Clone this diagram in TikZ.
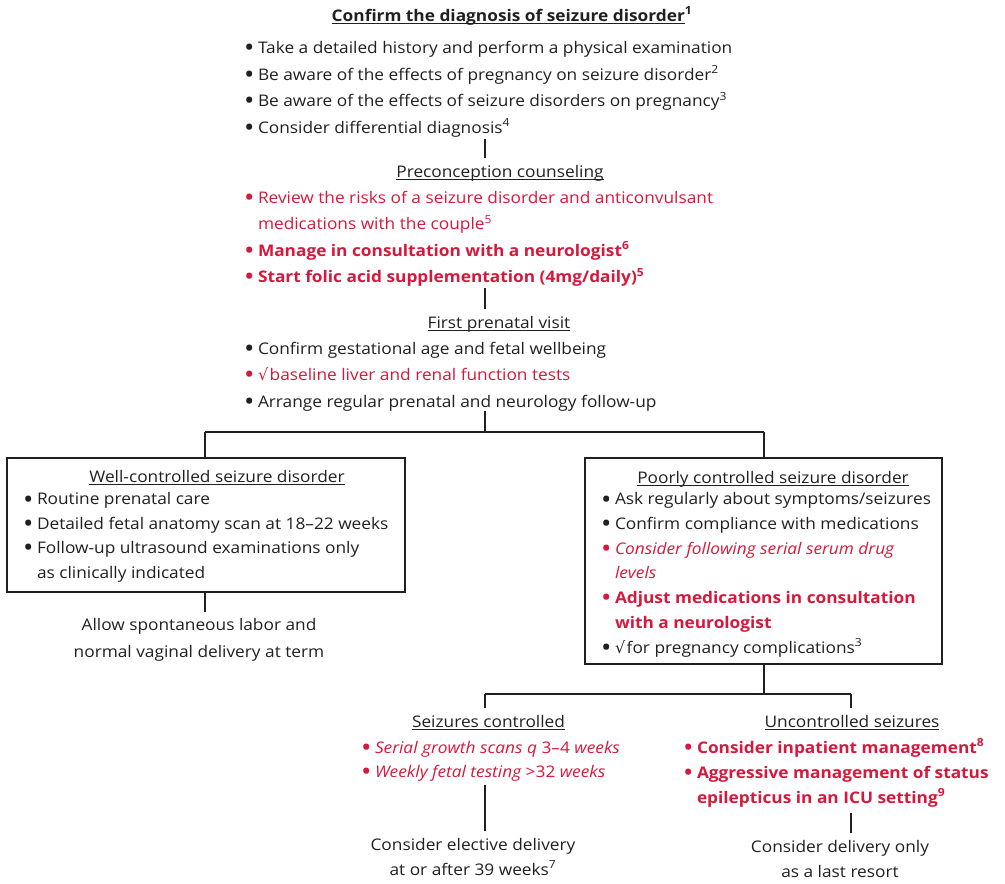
\documentclass[tikz,border=0pt]{standalone}
\usepackage{fontspec}
\usepackage{graphicx}
\setmainfont[FakeStretch=1.08]{Open Sans}
\newfontfamily\symf{DejaVu Sans}
\definecolor{ink}{RGB}{35,31,32}
\definecolor{alert}{RGB}{214,24,60}
% bullet with a fixed hanging width, and the matching indent for wrapped lines
\newcommand{\bl}{\makebox[12.5pt][l]{\hspace*{-1.5pt}\raisebox{-3.2pt}{\scalebox{1.6}{\normalfont •}}}}
\newcommand{\ind}{\hspace*{12.5pt}}
\newcommand{\chk}{{\symf √}\hspace{1.5pt}}
% heading underline at a fixed depth below the baseline
\newcommand{\hd}[1]{\setbox0\hbox{#1}\rlap{\rule[-3pt]{\wd0}{0.9pt}}\box0}
\newcommand{\bodyfont}{\fontsize{16}{26.5}\selectfont}

\begin{document}
\begin{tikzpicture}[x=1pt,y=-1pt,
  every node/.style={inner sep=0pt, outer sep=0pt, text=ink, font=\bodyfont},
  % multi-line lists are placed by the baseline of their last line
  list/.style={anchor=base west, align=left},
  skip/.style={font=\fontsize{16}{#1}\selectfont},
  head/.style={anchor=base},
  centred/.style={anchor=base, align=center},
  box/.style={draw=ink, line width=1.3pt, rectangle},
  wire/.style={draw=ink, line width=1.3pt},
  lead/.style={wire, shorten <=2pt, shorten >=7pt}]

\useasboundingbox (0,0) rectangle (1005,884);
\coordinate (ax) at (485,0);

% --- diagnosis ---
\node[head] (confirm) at (512,21)
  {\bfseries\hd{Confirm the diagnosis of seizure disorder}\textsuperscript{1}};
\node[list] (hist) at (245.5,133)
  {\bl Take a detailed history and perform a physical examination\\
   \bl Be aware of the effects of pregnancy on seizure disorder\textsuperscript{2}\\
   \bl Be aware of the effects of seizure disorders on pregnancy\textsuperscript{3}\\
   \bl Consider differential diagnosis\textsuperscript{4}};

% --- preconception ---
\node[head] (pre) at (500,177) {\hd{Preconception counseling}};
\node[list, text=alert] (prel) at (245.5,282.5)
  {\bl Review the risks of a seizure disorder and anticonvulsant\\
   \ind medications with the couple\textsuperscript{5}\\
   {\bfseries\bl Manage in consultation with a neurologist\textsuperscript{6}}\\
   {\bfseries\bl Start folic acid supplementation (4mg/daily)\textsuperscript{5}}};

% --- first visit ---
\node[head] (first) at (499,328) {\hd{First prenatal visit}};
\node[list] (firstl) at (245.5,407)
  {\bl Confirm gestational age and fetal wellbeing\\
   {\color{alert}\bl\chk baseline liver and renal function tests}\\
   \bl Arrange regular prenatal and neurology follow-up};

% --- well-controlled branch ---
\node[box, minimum width=398pt, minimum height=134pt] (wellbox) at (206,525) {};
\node[head] (well) at (217,482) {\hd{Well-controlled seizure disorder}};
\node[list, skip=24.4] (welll) at (24.5,578)
  {\bl Routine prenatal care\\
   \bl Detailed fetal anatomy scan at 18–22 weeks\\
   \bl Follow-up ultrasound examinations only\\
   \ind as clinically indicated};
\node[centred, skip=27] (allow) at (199,657)
  {Allow spontaneous labor and\\normal vaginal delivery at term};

% --- poorly controlled branch ---
\node[box, minimum width=357pt, minimum height=206pt] (poorbox) at (763.5,561) {};
\node[head] (poor) at (773,483) {\hd{Poorly controlled seizure disorder}};
\node[list, skip=24.7] (poorl) at (602.5,653)
  {\bl Ask regularly about symptoms/seizures\\
   \bl Confirm compliance with medications\\
   {\color{alert}\bl\itshape Consider following serial serum drug}\\
   {\color{alert}\ind\itshape levels}\\
   {\color{alert}\bfseries\bl Adjust medications in consultation}\\
   {\color{alert}\bfseries\ind with a neurologist}\\
   \bl\chk for pregnancy complications\textsuperscript{3}};

% --- seizures controlled ---
\node[head] (ctrl) at (488.5,727) {\hd{Seizures controlled}};
\node[list, text=alert, skip=24.5] (ctrll) at (362.5,777.5)
  {\bl{\itshape Serial growth scans q} 3–4 {\itshape weeks}\\
   \bl{\itshape Weekly fetal testing} >32 {\itshape weeks}};
\node[centred, skip=25] (elective) at (473,875)
  {Consider elective delivery\\at or after 39 weeks\textsuperscript{7}};

% --- uncontrolled seizures ---
\node[head] (unc) at (852,727) {\hd{Uncontrolled seizures}};
\node[list, text=alert, skip=25] (uncl) at (684.5,803)
  {{\bfseries\bl Consider inpatient management\textsuperscript{8}}\\
   {\bfseries\bl Aggressive management of status}\\
   {\bfseries\ind epilepticus in an ICU setting\textsuperscript{9}}};
\node[centred, skip=25] (last) at (840,877)
  {Consider delivery only\\as a last resort};

% --- connectors ---
\coordinate (split1) at (485,432);
\coordinate (jl) at (205,432);
\coordinate (jr) at (764,432);
\coordinate (split2) at (764,694);
\coordinate (jc) at (485,694);
\coordinate (ju) at (851,694);

\draw[lead] (hist.south -| ax) -- (pre.north -| ax);
\draw[lead] (prel.south -| ax) -- (first.north -| ax);
\draw[wire] (firstl.south -| ax) -- (split1);
\draw[wire] (jl) -- (jr);
\draw[wire] (jl) -- (jl |- wellbox.north);
\draw[wire] (jr) -- (jr |- poorbox.north);
\draw[wire, shorten >=6pt] (wellbox.south -| jl) -- (allow.north -| jl);
\draw[wire] (poorbox.south -| split2) -- (split2);
\draw[wire] (jc) -- (ju);
\draw[wire, shorten >=7pt] (jc) -- (ctrl.north -| jc);
\draw[wire, shorten >=7pt] (ju) -- (unc.north -| ju);
\draw[lead, shorten <=4pt] (ctrll.south -| jc) -- (elective.north -| jc);
\draw[lead, shorten <=6pt] (uncl.south -| ju) -- (last.north -| ju);
\end{tikzpicture}
\end{document}
